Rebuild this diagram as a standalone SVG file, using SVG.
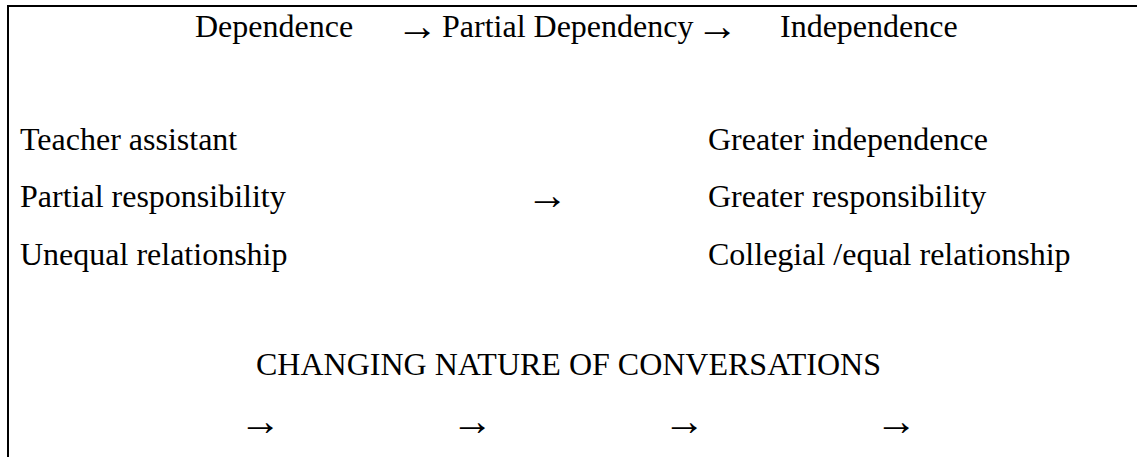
<svg xmlns="http://www.w3.org/2000/svg" width="1137" height="457" viewBox="0 0 1137 457">
<style>
  .t { font-family: "Liberation Serif", "Times New Roman", serif; font-size: 32px; fill: #000; }
  .arr { font-family: "Liberation Serif", "Times New Roman", serif; font-size: 42px; fill: #000; }
  .frame { stroke: #000; stroke-width: 2; fill: none; }
</style>
<rect width="1137" height="457" fill="#fff"/>
<path class="frame" d="M8 457 V6 H1137"/>
<g id="stages">
  <text class="t" x="195" y="37">Dependence</text>
  <text class="t" x="442" y="37">Partial Dependency</text>
  <text class="t" x="780" y="37">Independence</text>
</g>
<g id="left-column">
  <text class="t" x="20" y="150">Teacher assistant</text>
  <text class="t" x="20" y="207">Partial responsibility</text>
  <text class="t" x="20" y="265">Unequal relationship</text>
</g>
<g id="right-column">
  <text class="t" x="708" y="150">Greater independence</text>
  <text class="t" x="708" y="207">Greater responsibility</text>
  <text class="t" x="708" y="265">Collegial /equal relationship</text>
</g>
<g id="title">
  <text class="t" x="256" y="375">CHANGING NATURE OF CONVERSATIONS</text>
</g>
<g id="connectors">
  <text class="arr" x="396" y="40">→</text>
  <text class="arr" x="696" y="40">→</text>
  <text class="arr" x="526" y="209">→</text>
  <text class="arr" x="239" y="435">→</text>
  <text class="arr" x="451" y="435">→</text>
  <text class="arr" x="663" y="435">→</text>
  <text class="arr" x="875" y="435">→</text>
</g>
</svg>
